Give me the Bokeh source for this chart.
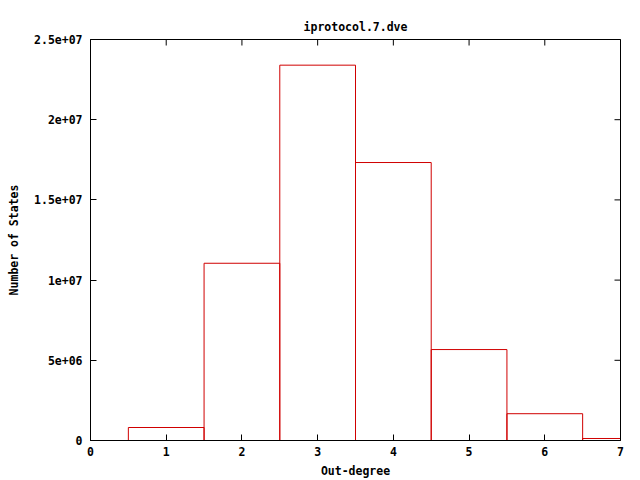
from bokeh.plotting import figure
from bokeh.models import Range1d, FixedTicker
from bokeh.embed import file_html
from bokeh.resources import INLINE

title_text = "iprotocol.7.dve"
x_label = "Out-degree"
y_label = "Number of States"

out_degree = [1, 2, 3, 4, 5, 6, 7]
num_states = [0.81e6, 1.105e7, 2.34e7, 1.733e7, 5.67e6, 1.67e6, 0.125e6]

x_ticks = [0, 1, 2, 3, 4, 5, 6, 7]
y_ticks = [0, 5e6, 1e7, 1.5e7, 2e7, 2.5e7]
y_tick_labels = ["0", "5e+06", "1e+07", "1.5e+07", "2e+07", "2.5e+07"]

FONT = "DejaVu Sans Mono"
FS = "11.5px"

x_max = x_ticks[-1]
y_max = y_ticks[-1]

p = figure(width=640, height=480, output_backend="svg", toolbar_location=None,
           x_range=Range1d(x_ticks[0], x_max), y_range=Range1d(y_ticks[0], y_max),
           min_border_left=90, min_border_right=20, min_border_top=39, min_border_bottom=40)
p.title.text = title_text
p.title.align = "center"
p.title.text_font = FONT
p.title.text_font_size = FS
p.title.text_font_style = "bold"
p.title.text_color = "black"
p.title.offset = 0
p.title.standoff = 12
p.grid.visible = False
p.outline_line_color = "black"
p.outline_line_width = 1
p.background_fill_color = "white"
p.border_fill_color = "white"

half = 0.5
p.quad(left=[x - half for x in out_degree], right=[x + half for x in out_degree],
       bottom=[0] * len(out_degree), top=num_states,
       fill_alpha=0, line_color="#d00000", line_width=1)

# mirrored tick marks on top and right edges (half of each marker is clipped by the frame)
p.scatter(x=x_ticks, y=[y_max] * len(x_ticks), marker="dash", angle=1.5708,
          size=12, line_color="black", line_width=1)
p.scatter(x=[x_max] * len(y_ticks), y=y_ticks, marker="dash",
          size=12, line_color="black", line_width=1)

yover = {t: l for t, l in zip(y_ticks, y_tick_labels)}

for ax in [p.xaxis[0], p.yaxis[0]]:
    ax.major_tick_in = 6
    ax.major_tick_out = 0
    ax.minor_tick_in = 0
    ax.minor_tick_out = 0
    ax.axis_line_color = "black"
    ax.major_label_text_font = FONT
    ax.major_label_text_font_size = FS
    ax.major_label_text_font_style = "bold"
    ax.axis_label_text_font = FONT
    ax.axis_label_text_font_size = FS
    ax.axis_label_text_font_style = "bold"
    ax.axis_label_text_color = "black"
    ax.major_label_text_color = "black"

p.xaxis[0].ticker = FixedTicker(ticks=x_ticks)
p.yaxis[0].ticker = FixedTicker(ticks=y_ticks)
p.yaxis[0].major_label_overrides = yover
p.xaxis[0].axis_label = x_label
p.yaxis[0].axis_label = y_label
p.xaxis[0].major_label_standoff = 6
p.yaxis[0].major_label_standoff = 8
p.xaxis[0].axis_label_standoff = 5
p.yaxis[0].axis_label_standoff = 10

open("out.html", "w").write(file_html(p, INLINE))
